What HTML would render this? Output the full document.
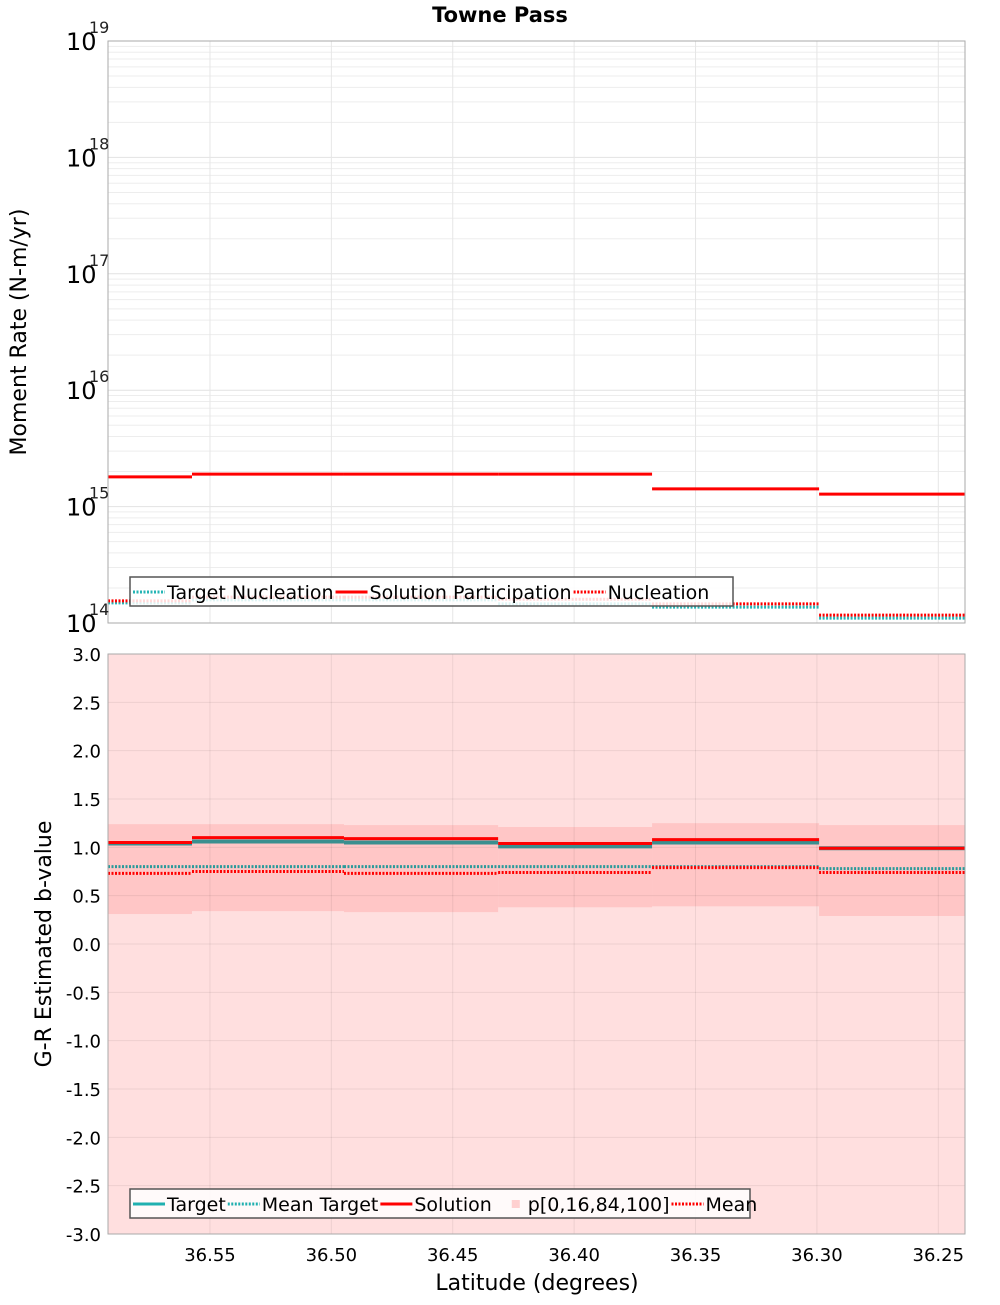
<!DOCTYPE html>
<html><head><meta charset="utf-8"><style>
body{margin:0;background:#fff;width:1000px;height:1300px;overflow:hidden}
svg{font-family:"DejaVu Sans","Liberation Sans",sans-serif}
</style></head><body>
<svg id="c" width="1000" height="1300" xmlns="http://www.w3.org/2000/svg">
<text x="500" y="22" text-anchor="middle" font-size="21" font-weight="bold">Towne Pass</text>
</svg>
<script>
const edges=[36.592,36.5574,36.4948,36.4313,36.3679,36.2991,36.239];
const xTicks=[36.55,36.50,36.45,36.40,36.35,36.30,36.25];
const xTickLabels=["36.55","36.50","36.45","36.40","36.35","36.30","36.25"];
const solPart=[1.8e15,1.9e15,1.9e15,1.9e15,1.42e15,1.28e15];
const nucl=[1.55e14,1.67e14,1.67e14,1.6e14,1.46e14,1.17e14];
const targetNucl=[1.49e14,1.58e14,1.58e14,1.46e14,1.37e14,1.10e14];
const solB=[1.05,1.10,1.09,1.04,1.08,0.99];
const targetB=[1.04,1.06,1.05,1.01,1.05,0.99];
const meanTargetB=[0.80,0.80,0.80,0.80,0.80,0.78];
const meanB=[0.73,0.75,0.73,0.74,0.79,0.74];
const p16=[0.31,0.34,0.33,0.38,0.39,0.29];
const p84=[1.24,1.24,1.23,1.21,1.25,1.23];
const bTicks=[3,2.5,2,1.5,1,0.5,0,-0.5,-1,-1.5,-2,-2.5,-3];
const decades=[14,15,16,17,18,19];

const NS="http://www.w3.org/2000/svg",svg=document.getElementById('c');
const L=108,R=965,T1=41,B1=623,T2=654,B2=1234;
const X=v=>L+(edges[0]-v)/(edges[0]-edges[6])*(R-L);
const Y1=v=>B1-(Math.log10(v)-14)/5*(B1-T1);
const Y2=v=>B2-(v+3)/6*(B2-T2);
function mk(t,a,p){const e=document.createElementNS(NS,t);for(const k in a)e.setAttribute(k,a[k]);(p||svg).appendChild(e);return e;}
function txt(s,a){const e=mk('text',a);e.textContent=s;return e;}

let r=mk('rect',{x:L,y:T2,width:R-L,height:B2-T2,fill:'#ffdfdf'});


for(let i=0;i<6;i++){
 let b=mk('rect',{x:X(edges[i]),y:Y2(p84[i]),width:X(edges[i+1])-X(edges[i]),height:Y2(p16[i])-Y2(p84[i]),fill:'#ffc6c6'});
 
 
}
for(const d of decades.slice(0,5)){for(let m=1;m<10;m++){const y=Y1(m*Math.pow(10,d));mk('line',{x1:L,x2:R,y1:y,y2:y,stroke:m==1?'#e2e2e2':'#ededed','stroke-width':1});}}
for(const t of bTicks){const y=Y2(t);mk('line',{x1:L,x2:R,y1:y,y2:y,stroke:'rgba(0,0,0,0.07)'});}
for(const t of xTicks){const x=X(t);mk('line',{x1:x,x2:x,y1:T1,y2:B1,stroke:'#e6e6e6'});mk('line',{x1:x,x2:x,y1:T2,y2:B2,stroke:'rgba(0,0,0,0.07)'});}

function steps(vals,Y,col,w,dash,name){
 for(let i=0;i<6;i++){const y=Y(vals[i]);
  const l=mk('line',{x1:X(edges[i]),x2:X(edges[i+1]),y1:y,y2:y,stroke:col,'stroke-width':w});
  if(dash)l.setAttribute('stroke-dasharray',dash);
  
  }
}
steps(targetNucl,Y1,'#25b5b5',3,'2 1.5','target-nucleation-line');
steps(nucl,Y1,'#ff0000',3,'2 1.5','nucleation-line');
steps(solPart,Y1,'#ff0000',3,null,'solution-participation-line');
steps(targetB,Y2,'#3a8f8f',4,null,'target-line');
steps(meanTargetB,Y2,'#2a9a9a',3,'2 1.5','mean-target-line');
steps(solB,Y2,'#ff0000',3,null,'solution-line');
steps(meanB,Y2,'#ff0000',3,'2 1.5','mean-line');

mk('rect',{x:L,y:T1,width:R-L,height:B1-T1,fill:'none',stroke:'#aaa'});
mk('rect',{x:L,y:T2,width:R-L,height:B2-T2,fill:'none',stroke:'#aaa'});

for(const d of decades){const y=Y1(Math.pow(10,d));
 let t=txt('10',{x:66,y:y+9,'font-size':24});
 
 
 txt(String(d),{x:89,y:y-8,'font-size':16,fill:'#222'});}
for(const v of bTicks){let t=txt(v.toFixed(1),{x:101,y:Y2(v)+7,'font-size':18,'text-anchor':'end'});
 
 }
for(let i=0;i<xTicks.length;i++){let t=txt(xTickLabels[i],{x:X(xTicks[i]),y:1261,'font-size':18,'text-anchor':'middle'});
 
 }
let a=txt('Latitude (degrees)',{x:537,y:1290,'font-size':22,'text-anchor':'middle'});

a=txt('Moment Rate (N-m/yr)',{x:0,y:0,'font-size':22,'text-anchor':'middle',transform:'translate(26,332) rotate(-90)'});

a=txt('G-R Estimated b-value',{x:0,y:0,'font-size':22,'text-anchor':'middle',transform:'translate(51,944) rotate(-90)'});


function legend(x,y,w,items,name){
 const g=mk('g',{});
 mk('rect',{x:x,y:y,width:w,height:29,fill:'rgba(255,255,255,0.85)',stroke:'#555','stroke-width':1.5},g);
 let cx=x+3;
 for(const it of items){
  if(it.box){mk('rect',{x:cx+18,y:y+11,width:8,height:8,fill:'#ffd0d0'},g);}
  else{const l=mk('line',{x1:cx,x2:cx+32,y1:y+15,y2:y+15,stroke:it.c,'stroke-width':3},g);if(it.d)l.setAttribute('stroke-dasharray','2 1.5');}
  const t=mk('text',{x:cx+34,y:y+22,'font-size':19},g);t.textContent=it.t;
  cx+=34+t.getComputedTextLength()+2;}
}
legend(130,577,603,[{c:'#25b5b5',d:1,t:'Target Nucleation'},{c:'#f00',t:'Solution Participation'},{c:'#f00',d:1,t:'Nucleation'}],'legend-top');
legend(130,1189,620,[{c:'#20b0b0',t:'Target'},{c:'#20b0b0',d:1,t:'Mean Target'},{c:'#f00',t:'Solution'},{box:1,t:'p[0,16,84,100]'},{c:'#f00',d:1,t:'Mean'}],'legend-bottom');
</script>
</body></html>
